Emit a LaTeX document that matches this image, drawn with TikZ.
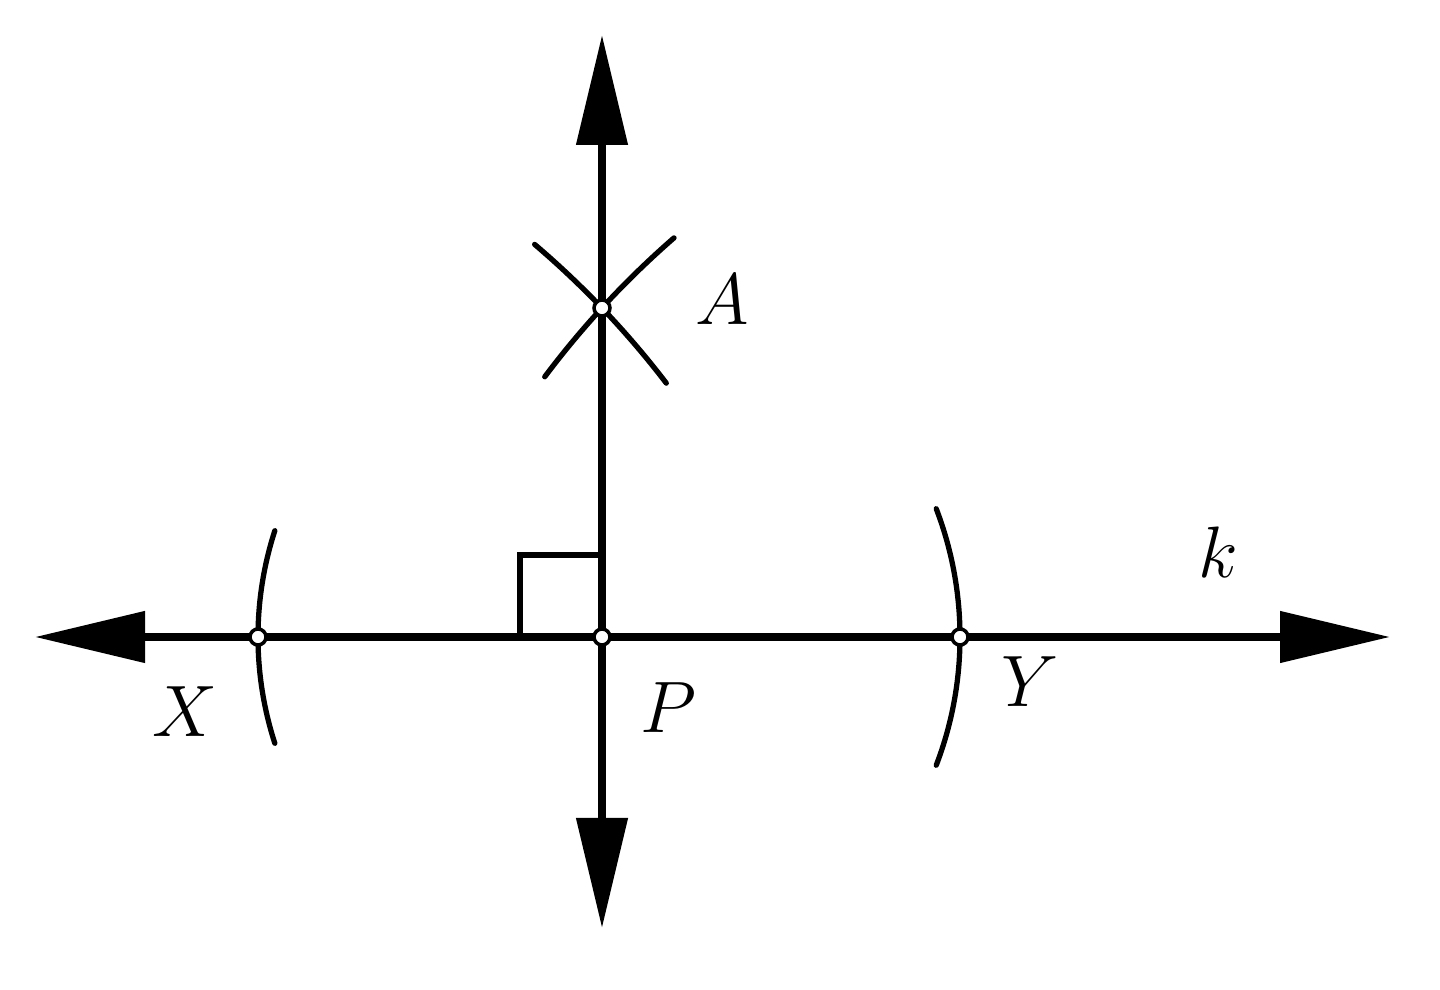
\documentclass[tikz,border=0pt]{standalone}
\usepackage{amsmath}
\usetikzlibrary{arrows.meta}

\begin{document}
\begin{tikzpicture}[
    line width = 2.2pt,
    line cap = round,
    axis/.style = {{Triangle[length = 11mm, width = 5mm]}-{Triangle[length = 11mm, width = 5mm]}},
    markarc/.style = {line width = 1.5pt},
    pt/.style = {circle, draw, fill = white,
      line width = 1pt,
      inner sep = 0pt,
      minimum size = {1.6mm}},
    lbl/.style = {font = \fontsize{22}{26}\selectfont},
    ]

    \useasboundingbox (0, 0) rectangle (14.4, 9.9);

    \coordinate (left) at (0.35, 3.53);
    \coordinate (right) at (13.9, 3.53);
    \coordinate (top) at (6.02, 9.55);
    \coordinate (bottom) at (6.02, 0.62);

    \coordinate (P) at (6.02, 3.53);
    \coordinate (X) at (2.58, 3.53);
    \coordinate (Y) at (9.60, 3.53);
    \coordinate (A) at (6.02, 6.82);

    % the two lines
    \draw [axis] (left) -- (right);
    \draw [axis] (bottom) -- (top);

    % right angle
    \draw [markarc] (P) ++(-0.82, 0) -- ++(0, 0.82) -- ++(0.82, 0);

    % arcs centred at P
    \draw [markarc] (P) ++(162: 3.44) arc [start angle = 162, end angle = 198, radius = 3.44];
    \draw [markarc] (P) ++(-21: 3.58) arc [start angle = -21, end angle = 21, radius = 3.58];

    % crossing arcs at A
    \draw [markarc] (A) ++(223.7: 9) ++(49.6: 9) arc [start angle = 49.6, end angle = 37.4, radius = 9];
    \draw [markarc] (A) ++(317.4: 9) ++(131: 9) arc [start angle = 131, end angle = 143.1, radius = 9];

    \node at (P) [pt, name = Pdot] {};
    \node at (X) [pt, name = Xdot] {};
    \node at (Y) [pt, name = Ydot] {};
    \node at (A) [pt, name = Adot] {};

    \node at (7.22, 6.90) [lbl, name = A_lbl] {$A$};
    \node at (1.85, 2.78) [lbl, name = X_lbl] {$X$};
    \node at (6.68, 2.82) [lbl, name = P_lbl] {$P$};
    \node at (10.30, 3.08) [lbl, name = Y_lbl] {$Y$};
    \node at (12.18, 4.38) [lbl, name = k_lbl] {$k$};
  \end{tikzpicture}
\end{document}
